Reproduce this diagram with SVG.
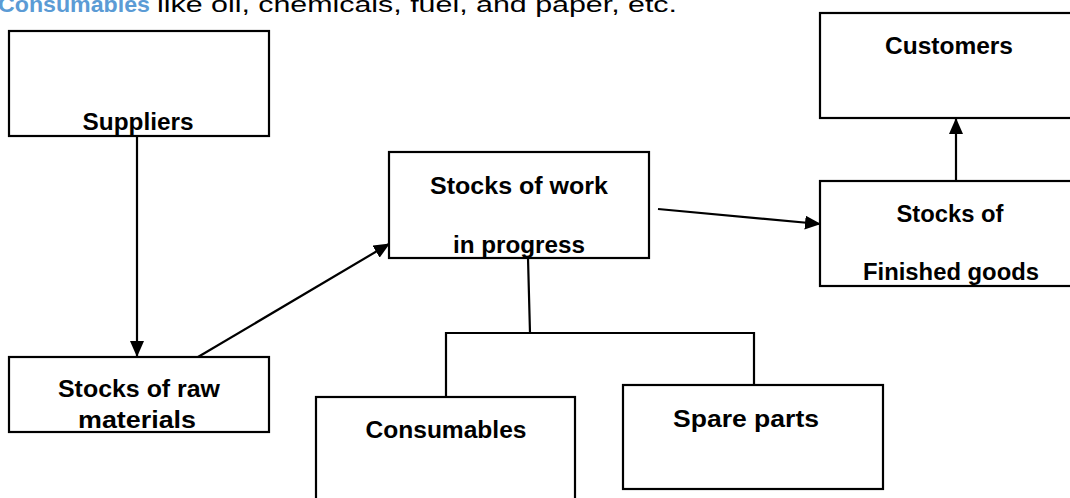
<svg xmlns="http://www.w3.org/2000/svg" width="1070" height="498" viewBox="0 0 1070 498">
  <style>
    .box { fill: #ffffff; stroke: #000000; stroke-width: 2.2; }
    .lbl { font-family: "Liberation Sans", Arial, sans-serif; font-weight: bold; font-size: 23px; fill: #000000; text-anchor: middle; }
    .con { fill: none; stroke: #000000; stroke-width: 2.2; }
    .top { font-family: "Liberation Sans", Arial, sans-serif; font-size: 22px; }
  </style>
  <defs>
    <marker id="arr" markerUnits="userSpaceOnUse" markerWidth="16" markerHeight="14" refX="15" refY="7" orient="auto">
      <path d="M0,0 L16,7 L0,14 Z" fill="#000000"/>
    </marker>
  </defs>
  <rect width="1070" height="498" fill="#ffffff"/>

  <text class="top" x="-2" y="12"><tspan font-weight="bold" fill="#5B9BD5" textLength="152" lengthAdjust="spacingAndGlyphs">Consumables</tspan></text>
  <text class="top" x="157" y="12" fill="#000000" textLength="520" lengthAdjust="spacingAndGlyphs">like oil, chemicals, fuel, and paper, etc.</text>

  <g id="connectors">
    <line class="con" x1="137" y1="137" x2="137" y2="356" marker-end="url(#arr)"/>
    <line class="con" x1="198" y1="357" x2="389" y2="244" marker-end="url(#arr)"/>
    <line class="con" x1="658" y1="209" x2="820" y2="224" marker-end="url(#arr)"/>
    <line class="con" x1="956" y1="181" x2="956" y2="119" marker-end="url(#arr)"/>
    <path class="con" d="M528,258 L530,333 M446,333 L754,333 M446,332 L446,397 M754,332 L754,385"/>
  </g>

  <g id="suppliers">
    <rect class="box" x="9" y="31" width="260" height="105"/>
    <text class="lbl" x="138" y="130" textLength="111" lengthAdjust="spacingAndGlyphs">Suppliers</text>
  </g>

  <g id="raw-materials">
    <rect class="box" x="9" y="357" width="260" height="75"/>
    <text class="lbl" x="139" y="397" textLength="162" lengthAdjust="spacingAndGlyphs">Stocks of raw</text>
    <text class="lbl" x="137" y="428" textLength="118" lengthAdjust="spacingAndGlyphs">materials</text>
  </g>

  <g id="work-in-progress">
    <rect class="box" x="389" y="152" width="260" height="106"/>
    <text class="lbl" x="519" y="194" textLength="178" lengthAdjust="spacingAndGlyphs">Stocks of work</text>
    <text class="lbl" x="519" y="253" textLength="132" lengthAdjust="spacingAndGlyphs">in progress</text>
  </g>

  <g id="finished-goods">
    <rect class="box" x="820" y="181" width="260" height="105"/>
    <text class="lbl" x="950" y="222" textLength="107" lengthAdjust="spacingAndGlyphs">Stocks of</text>
    <text class="lbl" x="951" y="280" textLength="176" lengthAdjust="spacingAndGlyphs">Finished goods</text>
  </g>

  <g id="customers">
    <rect class="box" x="820" y="13" width="260" height="105"/>
    <text class="lbl" x="949" y="54" textLength="128" lengthAdjust="spacingAndGlyphs">Customers</text>
  </g>

  <g id="consumables">
    <rect class="box" x="316" y="397" width="259" height="110"/>
    <text class="lbl" x="446" y="438" textLength="161" lengthAdjust="spacingAndGlyphs">Consumables</text>
  </g>

  <g id="spare-parts">
    <rect class="box" x="623" y="385" width="260" height="104"/>
    <text class="lbl" x="746" y="427" textLength="146" lengthAdjust="spacingAndGlyphs">Spare parts</text>
  </g>
</svg>
